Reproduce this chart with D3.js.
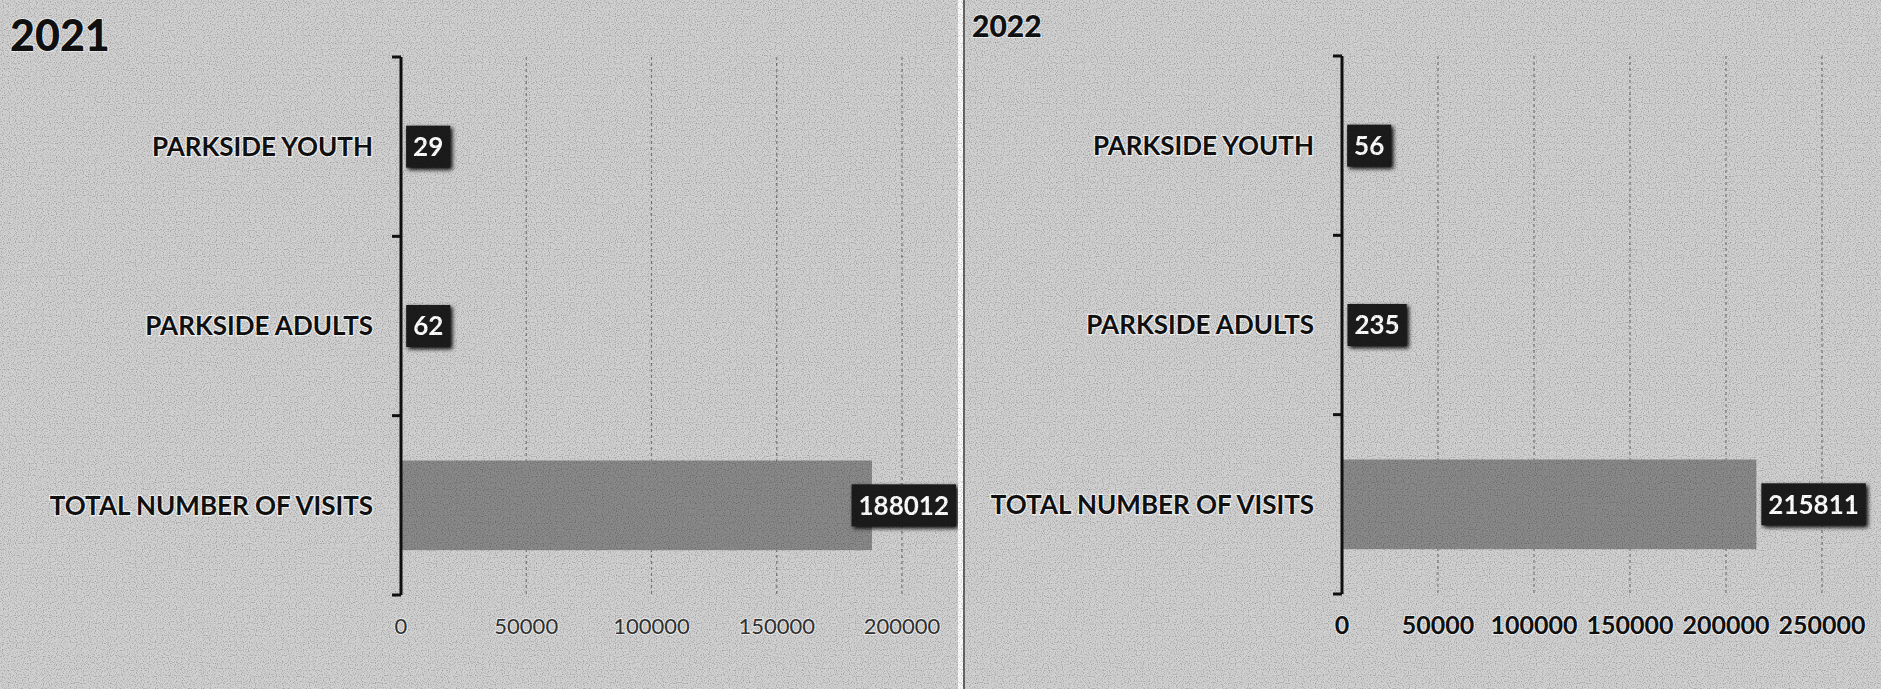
<!DOCTYPE html>
<html>
<head>
<meta charset="utf-8">
<script src="https://cdn.jsdelivr.net/npm/d3@7/dist/d3.min.js"></script>
<style>
  body { margin: 0; background: #cecece; }
  svg { display: block; }
</style>
</head>
<body>
<script>
// visits per group, top row first
var categories = ["PARKSIDE YOUTH", "PARKSIDE ADULTS", "TOTAL NUMBER OF VISITS"];
var values2021 = [29, 62, 188012];
var values2022 = [56, 235, 215811];
var ticks2021 = [0, 50000, 100000, 150000, 200000];
var ticks2022 = [0, 50000, 100000, 150000, 200000, 250000];

var W = 1881, H = 689;
var svg = d3.select("body").append("svg").attr("width", W).attr("height", H);

// grainy scan look
var defs = svg.append("defs");
var f = defs.append("filter").attr("id", "grain").attr("x", 0).attr("y", 0).attr("width", 1).attr("height", 1);
f.append("feTurbulence").attr("type", "fractalNoise").attr("baseFrequency", 0.85).attr("numOctaves", 1).attr("seed", 3);
f.append("feColorMatrix").attr("type", "matrix")
  .attr("values", "0 0 0 0 0  0 0 0 0 0  0 0 0 0 0  0 0 0 -2.6 1.35");

var shadow = defs.append("filter").attr("id", "shadow").attr("x", -0.2).attr("y", -0.2).attr("width", 1.5).attr("height", 1.5);
shadow.append("feGaussianBlur").attr("in", "SourceAlpha").attr("stdDeviation", 2);
shadow.append("feOffset").attr("dx", 2).attr("dy", 2).attr("result", "b");
var mg = shadow.append("feMerge");
mg.append("feMergeNode").attr("in", "b");
mg.append("feMergeNode").attr("in", "SourceGraphic");

svg.append("rect").attr("width", W).attr("height", H).attr("fill", "#d0d0d0");

function drawPanel(cfg) {
    var g = svg.append("g");
    var x = d3.scaleLinear().domain([0, d3.max(cfg.ticks)]).range([cfg.x0, cfg.x1]);
    var y = d3.scaleBand().domain(categories).range([cfg.top, cfg.bottom]).paddingInner(0.5).paddingOuter(0.25);
    var yb = d3.scaleBand().domain(categories).range([cfg.top, cfg.bottom]);

    // gridlines
    g.selectAll(".grid").data(cfg.ticks.slice(1)).enter().append("line")
        .attr("x1", function (d) { return x(d); })
        .attr("x2", function (d) { return x(d); })
        .attr("y1", cfg.top).attr("y2", cfg.bottom)
        .style("stroke", "#7a7a7a").style("stroke-width", 1.2)
        .style("stroke-dasharray", "3,3");

    // bars
    g.selectAll(".bar").data(categories).enter().append("rect")
        .attr("x", x(0))
        .attr("y", function (d) { return y(d); })
        .attr("width", function (d, i) { return x(cfg.values[i]) - x(0); })
        .attr("height", y.bandwidth())
        .attr("fill", "#898989");

    // y axis with ticks at band edges
    var edges = categories.map(function (d) { return yb(d); }).concat([cfg.bottom]);
    g.append("line").attr("x1", x(0)).attr("x2", x(0)).attr("y1", cfg.top).attr("y2", cfg.bottom)
        .style("stroke", "#111").style("stroke-width", 3);
    g.selectAll(".ytick").data(edges).enter().append("line")
        .attr("x1", x(0) - 9).attr("x2", x(0))
        .attr("y1", function (d) { return d; }).attr("y2", function (d) { return d; })
        .style("stroke", "#111").style("stroke-width", 3);

    // category labels
    g.selectAll(".cat").data(categories).enter().append("text")
        .attr("x", x(0) - 28)
        .attr("y", function (d) { return yb(d) + yb.bandwidth() / 2; })
        .attr("dy", "0.36em")
        .attr("text-anchor", "end")
        .style("font-family", "Lato, 'Open Sans', sans-serif")
        .style("font-weight", "bold")
        .style("font-size", "26px")
        .style("fill", "#111")
        .style("stroke", "#f4f4f4").style("stroke-width", 2.5).style("paint-order", "stroke")
        .text(function (d) { return d; });

    // x tick labels
    g.selectAll(".xt").data(cfg.ticks).enter().append("text")
        .attr("x", function (d) { return x(d); })
        .attr("y", cfg.bottom + 31)
        .attr("dy", "0.36em")
        .attr("text-anchor", "middle")
        .style("font-family", "Lato, 'Open Sans', sans-serif")
        .style("font-weight", cfg.tickWeight)
        .style("font-size", cfg.tickSize + "px")
        .style("fill", cfg.tickColor)
        .style("stroke", "#f0f0f0").style("stroke-width", 2).style("paint-order", "stroke")
        .text(function (d) { return d; });

    // value labels in dark boxes
    categories.forEach(function (c, i) {
        var v = cfg.values[i];
        var cy = yb(c) + yb.bandwidth() / 2;
        var lab = g.append("g").attr("filter", "url(#shadow)");
        var t = lab.append("text")
            .attr("y", cy).attr("dy", "0.36em")
            .attr("text-anchor", "middle")
            .style("font-family", "Lato, 'Open Sans', sans-serif")
            .style("font-weight", "bold")
            .style("font-size", "26px")
            .style("fill", "#fff")
            .text(v);
        var tw = t.node().getComputedTextLength();
        var bw = tw + 14, bh = 42;
        var bx = Math.min(x(v) + 5, cfg.right - bw - 2);
        lab.insert("rect", "text")
            .attr("x", bx).attr("y", cy - bh / 2)
            .attr("width", bw).attr("height", bh)
            .attr("fill", "#1e1e1e");
        t.attr("x", bx + bw / 2);
    });

    // year title
    g.append("text")
        .attr("x", cfg.titleX).attr("y", cfg.titleY)
        .style("font-family", "Lato, 'Open Sans', sans-serif")
        .style("font-weight", "900")
        .style("font-size", cfg.titleSize + "px")
        .style("fill", "#111")
        .style("stroke", "#eee").style("stroke-width", 2).style("paint-order", "stroke")
        .text(cfg.title);
}

drawPanel({ title: "2021", titleX: 10, titleY: 51, titleSize: 43,
    values: values2021, ticks: ticks2021,
    x0: 401, x1: 902, top: 57, bottom: 595, right: 958,
    tickWeight: "normal", tickSize: 22, tickColor: "#333" });

drawPanel({ title: "2022", titleX: 972, titleY: 37, titleSize: 30,
    values: values2022, ticks: ticks2022,
    x0: 1342, x1: 1822, top: 56, bottom: 594, right: 1870,
    tickWeight: "bold", tickSize: 25, tickColor: "#111" });

// divider between the two pictures
svg.append("rect").attr("x", 958).attr("y", 0).attr("width", 5).attr("height", H).attr("fill", "#fafafa");
svg.append("line").attr("x1", 964).attr("x2", 964).attr("y1", 0).attr("y2", H)
    .style("stroke", "#444").style("stroke-width", 1.5);

// grain on top
svg.append("rect").attr("width", W).attr("height", H).attr("filter", "url(#grain)").attr("opacity", 0.3)
    .style("pointer-events", "none");
</script>
</body>
</html>
